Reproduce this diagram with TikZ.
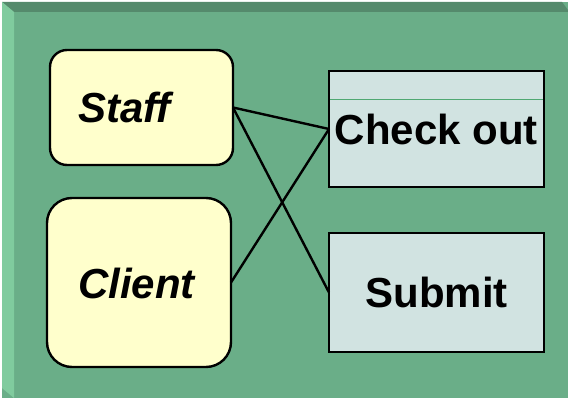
\documentclass[tikz,border=0pt]{standalone}
\usepackage{fontspec}
\setmainfont{Liberation Sans}
\definecolor{panel}{HTML}{6AAE88}
\definecolor{paneltop}{HTML}{558A6C}
\definecolor{panelleft}{HTML}{80CB9E}
\definecolor{actorfill}{HTML}{FFFFCC}
\definecolor{casefill}{HTML}{D1E3E1}
\definecolor{divider}{HTML}{4FA872}
\begin{document}
\begin{tikzpicture}[x=1pt,y=-1pt,
  actor/.style={draw=black,line width=2.4pt,fill=actorfill,inner sep=0pt,
    outer sep=0pt,minimum width=#1},
  usecase/.style={draw=black,line width=2.4pt,fill=casefill,inner sep=0pt,
    outer sep=0pt,minimum width=215pt,minimum height=116pt},
  caption/.style={inner sep=0pt,font=\fontsize{42}{48}\selectfont\bfseries},
  link/.style={line width=2.4pt,black}]
  \useasboundingbox (0,0) rectangle (568,398);
  % bevelled panel
  \fill[white] (0,0) rectangle (568,398);
  \fill[panel] (2,2) rectangle (568,398);
  \fill[paneltop] (2,2) -- (562,2) -- (568,10) -- (568,12) -- (14,12) -- cycle;
  \fill[panelleft] (2,2) -- (14,12) -- (14,398) -- (2,388) -- cycle;

  % actors
  \node[actor=183pt,minimum height=115pt,rounded corners=17pt] (staff) at (141.5,107.5) {};
  \node[actor=184pt,minimum height=169pt,rounded corners=25pt] (client) at (139,282.5) {};
  \node[caption,anchor=west] (staffText) at (78,107.5) {\itshape Staff};
  \node[caption,anchor=west] (clientText) at (78,283) {\itshape Client};

  % use cases
  \node[usecase] (checkout) at (436.5,129) {};
  \draw[divider,line width=1pt] ([xshift=1.2pt,yshift=-29pt]checkout.north west)
    -- ([xshift=-1.2pt,yshift=-29pt]checkout.north east);
  \node[caption] (checkoutText) at (436.5,129.5) {Check out};
  \node[usecase,minimum height=119pt] (submit) at (436.5,292.5) {};
  \node[caption] (submitText) at (436.5,292.5) {Submit};

  % associations
  \draw[link] (staff.east) -- (checkout.west);
  \draw[link] (staff.east) -- (submit.west);
  \draw[link] (client.east) -- (checkout.west);
\end{tikzpicture}
\end{document}
